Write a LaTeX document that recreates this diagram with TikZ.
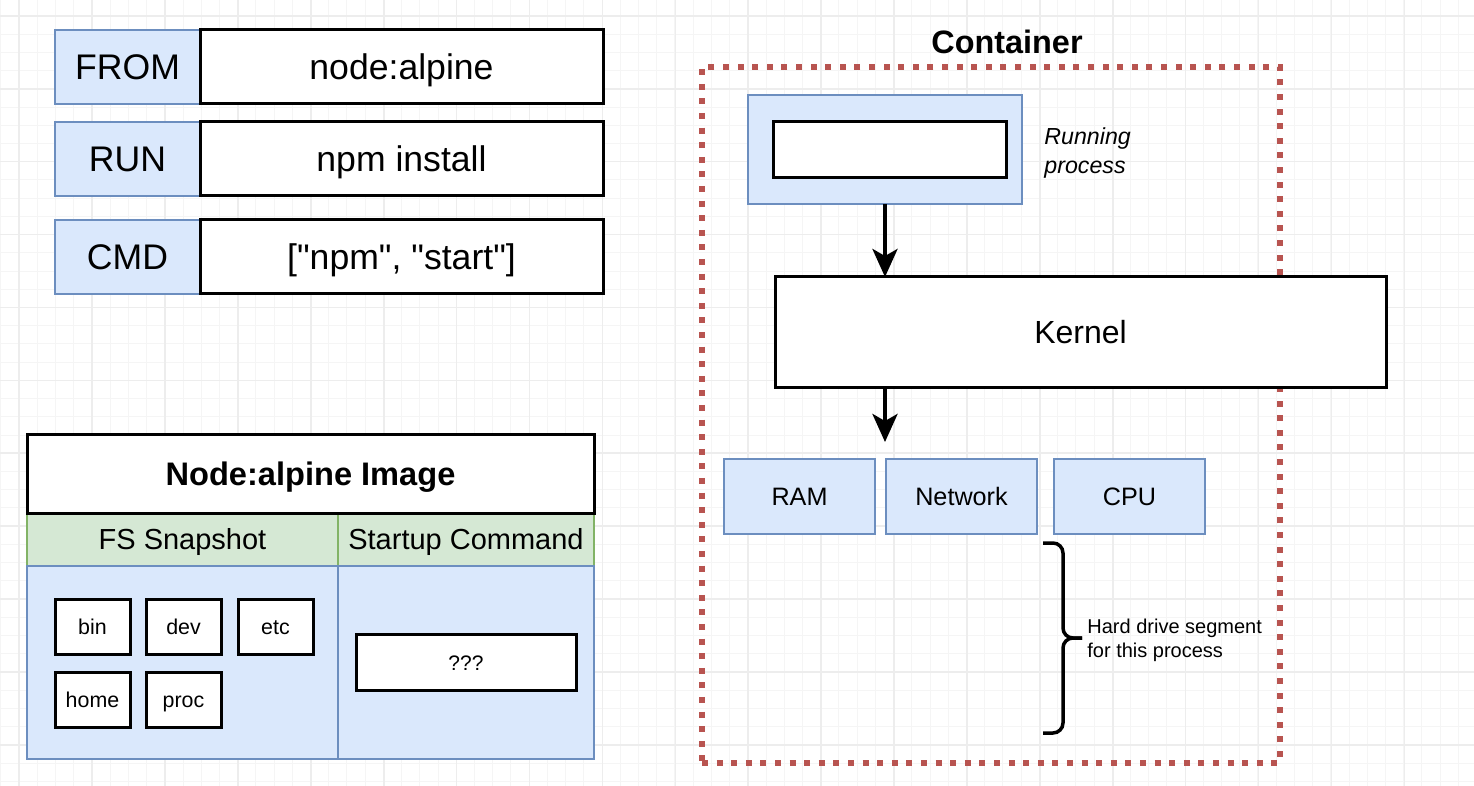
\documentclass[tikz,border=0pt]{standalone}
\usepackage{fontspec}
\setmainfont{Liberation Sans}
\newfontfamily\plainsans{Liberation Sans}
\usetikzlibrary{positioning,arrows.meta}

\definecolor{bluefill}{HTML}{DAE8FC}
\definecolor{blueline}{HTML}{6C8EBF}
\definecolor{greenfill}{HTML}{D5E8D4}
\definecolor{greenline}{HTML}{82B366}
\definecolor{redline}{HTML}{B85450}
\definecolor{gridminor}{HTML}{F5F5F5}
\definecolor{gridmajor}{HTML}{EDEDED}

\tikzset{
  box/.style={inner sep=0pt, outer sep=0pt, text depth=0pt},
  keybox/.style={box, draw=blueline, fill=bluefill, line width=1.25pt, text height=12.8pt,
    minimum width=72.5pt, minimum height=37pt, font=\fontsize{17.8}{21}\selectfont},
  valbox/.style={box, draw=black, fill=white, line width=1.5pt, text height=12.8pt,
    minimum width=201.5pt, minimum height=37pt, font=\fontsize{17.8}{21}\selectfont},
  titlebox/.style={box, draw=black, fill=white, line width=1.5pt, text height=11.7pt,
    minimum width=283.5pt, minimum height=39pt, font=\bfseries\fontsize{16.3}{19}\selectfont},
  hdrbox/.style={box, draw=greenline, fill=greenfill, line width=1.25pt, text height=10.4pt,
    minimum height=26.5pt, font=\fontsize{14.5}{18}\selectfont},
  bodybox/.style={box, draw=blueline, fill=bluefill, line width=1.25pt, minimum height=96.5pt},
  dirbox/.style={box, draw=black, fill=white, line width=1.5pt, text height=7.7pt,
    minimum width=37.5pt, minimum height=27.5pt, font=\fontsize{10.7}{13}\selectfont},
  slotbox/.style={box, draw=black, fill=white, line width=1.5pt, text height=7.6pt,
    minimum width=110pt, minimum height=28pt, font=\fontsize{10.5}{13}\selectfont},
  resbox/.style={box, draw=blueline, fill=bluefill, line width=1.25pt, text height=9.1pt,
    minimum width=75.5pt, minimum height=37.5pt, font=\fontsize{12.6}{15}\selectfont},
  frame/.style={box, draw=redline, line width=3pt, dash pattern=on 3pt off 4.3pt},
  flow/.style={line width=2pt, -{Stealth[length=14pt, width=12.5pt, inset=3.5pt]}},
  hdbrace/.style={line width=1.75pt, rounded corners=5pt},
}

\begin{document}
\begin{tikzpicture}[x=0.5pt, y=-0.5pt]
  \useasboundingbox (0,0) rectangle (1474,786);
  % background grid
  \foreach \k in {0,...,80}
    \draw[gridminor, line width=0.5pt] ({0.8+18.22*\k},0) -- ({0.8+18.22*\k},786);
  \foreach \k in {-1,...,42}
    \draw[gridminor, line width=0.5pt] (0,{16+18.22*\k}) -- (1474,{16+18.22*\k});
  \foreach \k in {0,...,19}
    \draw[gridmajor, line width=0.8pt] ({19.2+72.9*\k},0) -- ({19.2+72.9*\k},786);
  \foreach \k in {0,...,10}
    \draw[gridmajor, line width=0.8pt] (0,{15.9+72.9*\k}) -- (1474,{15.9+72.9*\k});

  % Dockerfile
  \node (from) [keybox] at (127.5,67) {FROM};
  \node (fromval) [valbox, right=0pt of from] {node:alpine};
  \node (run) [keybox, below=9pt of from] {RUN};
  \node (runval) [valbox, right=0pt of run] {npm install};
  \node (cmd) [keybox, below=12pt of run] {CMD};
  \node (cmdval) [valbox, right=0pt of cmd] {\plainsans ["npm", "start"]};

  % image
  \node (fshdr) [hdrbox, minimum width=155.5pt, anchor=north west] at (27,513) {FS Snapshot};
  \node (cmdhdr) [hdrbox, minimum width=128pt, right=0pt of fshdr] {Startup Command};
  \node (fsbody) [bodybox, minimum width=155.5pt, below=0pt of fshdr] {};
  \node (cmdbody) [bodybox, minimum width=128pt, below=0pt of cmdhdr] {};
  \node (imgtitle) [titlebox, above=0pt of fshdr.north west, anchor=south west] {Node:alpine Image};
  \node (bindir) [dirbox] at (92.5,626.5) {bin};
  \node (devdir) [dirbox, right=8pt of bindir] {dev};
  \node (etcdir) [dirbox, right=8.5pt of devdir] {etc};
  \node (homedir) [dirbox, below=9pt of bindir] {home};
  \node (procdir) [dirbox, below=9pt of devdir] {proc};
  \node (startcmd) [slotbox] at (cmdbody) {???};

  % container
  \node (container) [frame, minimum width=289pt, minimum height=348pt] at (991,415) {};
  \node (ctitle) [font=\bfseries\fontsize{16.2}{19}\selectfont] at (1007,42) {Container};
  \node (runproc) [bodybox, minimum width=137pt, minimum height=54.5pt] at (885,149.5) {};
  \node (procslot) [slotbox, minimum width=116.5pt] at (889.5,150) {};
  \node (proclabel) [anchor=west, align=left, inner sep=0pt,
    font=\itshape\fontsize{11.6}{14.5}\selectfont] at (1044,153) {Running\\process};
  \node (kernel) [valbox, minimum width=305.5pt, minimum height=55.5pt, text height=11.5pt,
    font=\fontsize{16}{19}\selectfont] at (1080.5,332.5) {Kernel};
  \node (ram) [resbox] at (799.5,496.5) {RAM};
  \node (net) [resbox, right=5.5pt of ram] {Network};
  \node (cpu) [resbox, right=8.5pt of net] {CPU};
  \coordinate (hw) at (885,442);
  \draw[flow] (runproc.south) -- (runproc.south |- kernel.north);
  \draw[flow] (runproc.south |- kernel.south) -- (hw);

  % hard drive
  \coordinate (bracetop) at (1043,543);
  \coordinate (bracetip) at (1082,638);
  \coordinate (bracebot) at (1043,733);
  \draw[hdbrace] (bracetop) -- (1063,543) -- (1063,638) -- (bracetip);
  \draw[hdbrace] (bracebot) -- (1063,733) -- (1063,638) -- (bracetip);
  \node (hdlabel) [anchor=west, align=left, inner sep=0pt,
    font=\fontsize{10}{12}\selectfont] at (1087,640) {Hard drive segment\\for this process};
\end{tikzpicture}
\end{document}
